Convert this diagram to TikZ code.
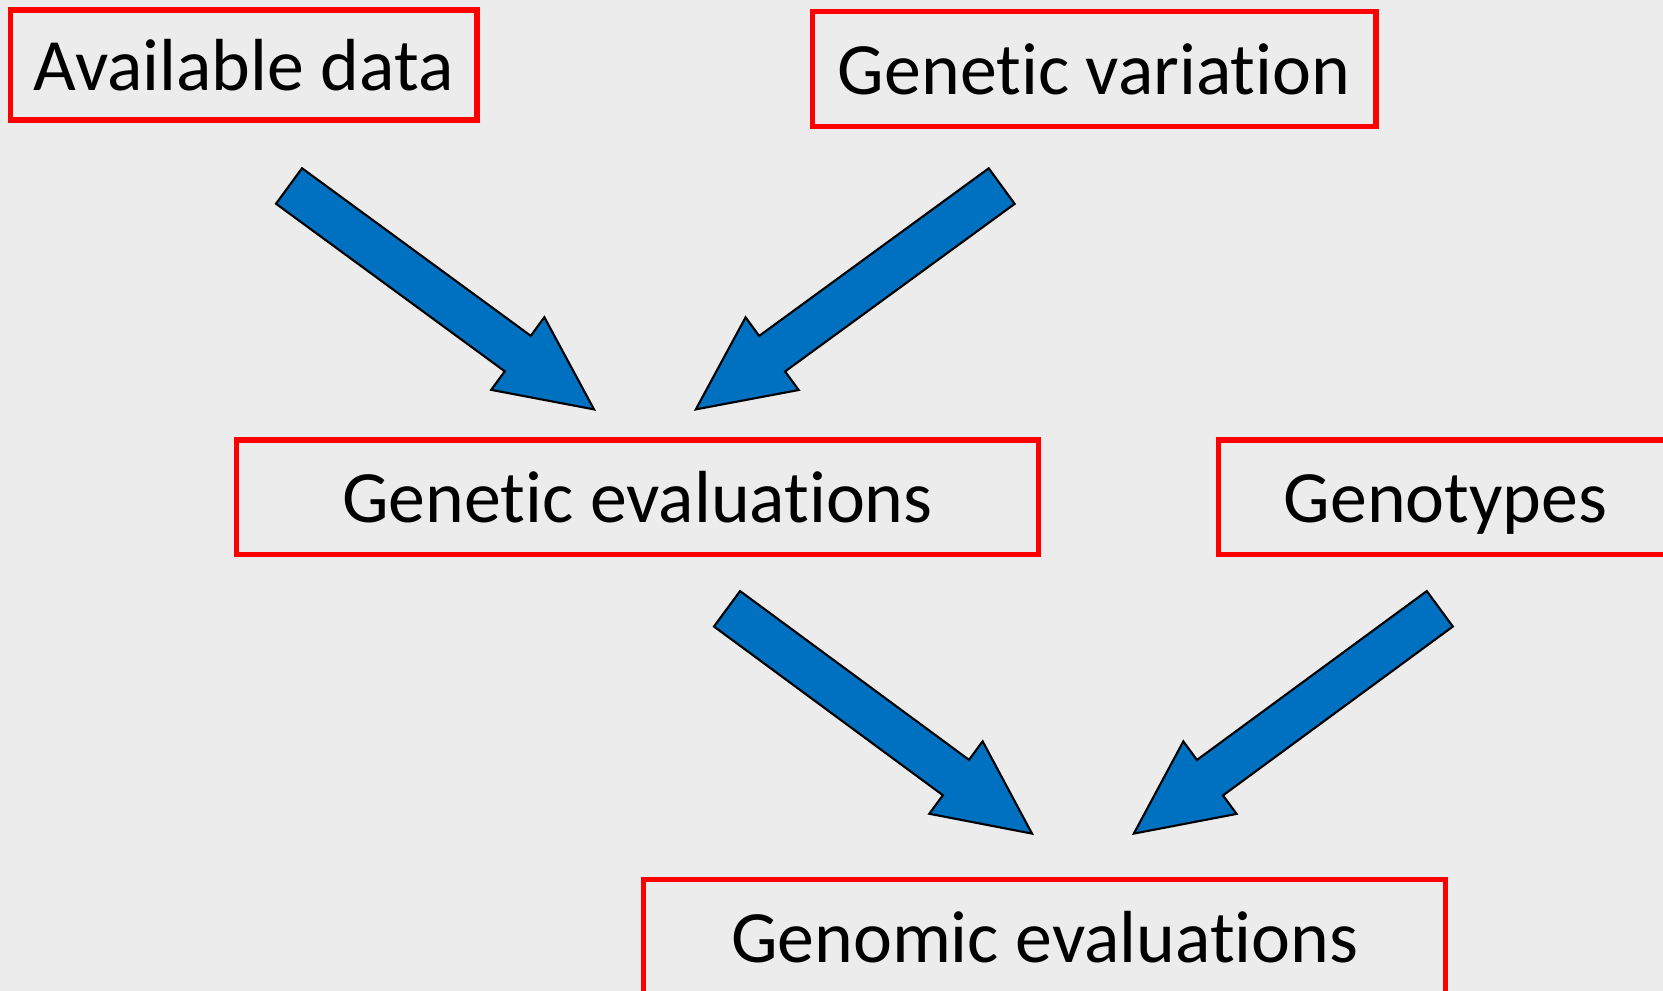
\documentclass[tikz,border=0pt]{standalone}
\usepackage{fontspec}
\setmainfont{Carlito}[Ligatures=NoCommon]
\usepackage{xcolor}
\usepackage{tikz}
\usetikzlibrary{positioning,calc}
\definecolor{slidegrey}{RGB}{236,236,236}
\definecolor{arrowblue}{RGB}{0,112,192}
\newcommand{\blockarrow}[2]{%
  \coordinate (hb) at ($(#2)!0.945cm!(#1)$);
  \filldraw[fill=arrowblue, draw=black, line width=0.6pt]
    ($(#1)!0.22cm!90:(#2)$) -- ($(hb)!0.22cm!90:(#2)$) -- ($(hb)!0.45cm!90:(#2)$) -- (#2)
    -- ($(hb)!0.45cm!-90:(#2)$) -- ($(hb)!0.22cm!-90:(#2)$) -- ($(#1)!0.22cm!-90:(#2)$) -- cycle;}

\begin{document}
\begin{tikzpicture}[node distance=1cm, every node/.style={font=\fontsize{21}{25}\selectfont}]
  \tikzstyle{box}=[rectangle, draw=red, line width=1.5pt, inner sep=0pt, text height=0.63cm, text depth=0.12cm, minimum height=1.147cm]
  \path[use as bounding box, fill=slidegrey] (0,0) rectangle (16.63,-9.91);
  \node[box, minimum width=4.665cm, minimum height=1.10cm] (avail) at (2.4375,-0.65) {Available data};
  \node[box, minimum width=5.636cm, right=3.3cm of avail, yshift=-0.4mm] (var) {Genetic variation};
  \node[box, minimum width=8.018cm] (eval) at (6.374,-4.974) {Genetic evaluations};
  \node[box, minimum width=4.54cm, right=1.75cm of eval] (geno) {Genotypes};
  \node[box, minimum width=8.018cm] (genom) at (10.447,-9.366) {Genomic evaluations};
  \coordinate (a1s) at (2.89,-1.86);
  \coordinate (a1e) at (5.94,-4.094);
  \coordinate (a2s) at (10.017,-1.861);
  \coordinate (a2e) at (6.958,-4.094);
  \coordinate (a3s) at (7.27,-6.088);
  \coordinate (a3e) at (10.32,-8.336);
  \coordinate (a4s) at (14.398,-6.088);
  \coordinate (a4e) at (11.338,-8.336);
  \blockarrow{a1s}{a1e}
  \blockarrow{a2s}{a2e}
  \blockarrow{a3s}{a3e}
  \blockarrow{a4s}{a4e}
\end{tikzpicture}
\end{document}
